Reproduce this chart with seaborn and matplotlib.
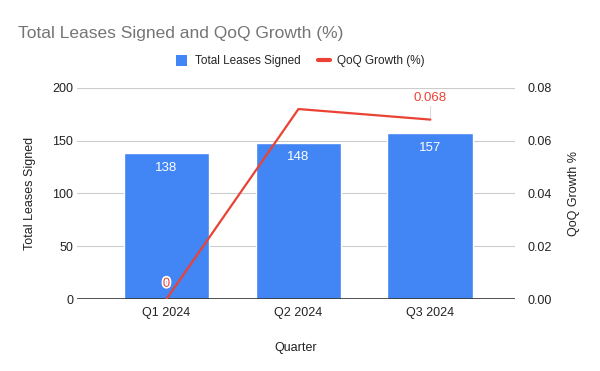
import pandas as pd
import seaborn as sns
import matplotlib.pyplot as plt
from matplotlib.patches import Patch
from matplotlib.lines import Line2D
import matplotlib.patheffects as pe

quarters = ['Q1 2024', 'Q2 2024', 'Q3 2024']
leases = [138, 148, 157]
qoq_growth = [0.0, 0.072, 0.068]

df = pd.DataFrame({'Quarter': quarters, 'Leases': leases, 'QoQ': qoq_growth})

sns.set_style('white')
plt.rcParams['font.family'] = ['Liberation Sans', 'DejaVu Sans']

BLUE = '#4285F4'
RED = '#EA4335'
GRID = '#cccccc'
TXT = '#222222'

fig = plt.figure(figsize=(6, 3.71), dpi=100)
ax = fig.add_axes([0.128, 0.194, 0.73, 0.569])

sns.barplot(data=df, x='Quarter', y='Leases', color=BLUE, width=0.65,
            saturation=1, ax=ax, zorder=2)
ax.set_ylim(0, 200)
ax.set_yticks([0, 50, 100, 150, 200])
ax.set_xlim(-0.68, 2.64)
ax.yaxis.grid(True, color=GRID, linewidth=0.8, zorder=0)
ax.set_axisbelow(True)
for s in ax.spines.values():
    s.set_visible(False)
ax.axhline(0, color='#333333', linewidth=1.2, zorder=3)
ax.tick_params(axis='both', length=0, labelsize=9, colors=TXT)
ax.tick_params(axis='y', pad=2.5)
ax.tick_params(axis='x', pad=6)
ax.set_xlabel('Quarter', fontsize=9, color=TXT, labelpad=16)
ax.set_ylabel('Total Leases Signed', fontsize=9, color=TXT, labelpad=11.5)

for i, v in enumerate(leases):
    ax.text(i, v - 8, str(v), ha='center', va='top', color='white', fontsize=9.5, zorder=4)

ax2 = ax.twinx()
sns.lineplot(data=df, x='Quarter', y='QoQ', color=RED, linewidth=1.6,
             sort=False, ax=ax2, zorder=5)
ax2.set_ylim(0, 0.08)
ax2.set_yticks([0, 0.02, 0.04, 0.06, 0.08])
ax2.set_yticklabels([f'{t:.2f}' for t in [0, 0.02, 0.04, 0.06, 0.08]])
for s in ax2.spines.values():
    s.set_visible(False)
ax2.tick_params(axis='y', length=0, labelsize=9, colors=TXT, pad=9)
ax2.set_xlabel('')
ax2.set_ylabel('QoQ Growth %', fontsize=9, color=TXT, labelpad=11.5)

ax2.text(0, 0.0035, '0', ha='center', va='bottom', color=RED, fontsize=9.5, zorder=6,
         path_effects=[pe.withStroke(linewidth=2.5, foreground='white')])
ax2.plot([2, 2], [qoq_growth[2], qoq_growth[2] + 0.005], color='#dddddd', linewidth=0.8, zorder=4)
ax2.text(2, qoq_growth[2] + 0.006, '0.068', ha='center', va='bottom', color=RED, fontsize=9.5)

fig.text(0.03, 0.91, 'Total Leases Signed and QoQ Growth (%)', fontsize=12.5,
         color='#757575', va='center')

handles = [Patch(facecolor=BLUE, edgecolor='none'),
           Line2D([0], [0], color=RED, linewidth=3)]
fig.legend(handles, ['Total Leases Signed', 'QoQ Growth (%)'], loc='center',
           bbox_to_anchor=(0.5, 0.835), ncol=2, frameon=False, fontsize=8.5,
           handlelength=1.0, handleheight=1.0, columnspacing=1.5, handletextpad=0.6)

fig.savefig('out.png', dpi=100, facecolor='white')
